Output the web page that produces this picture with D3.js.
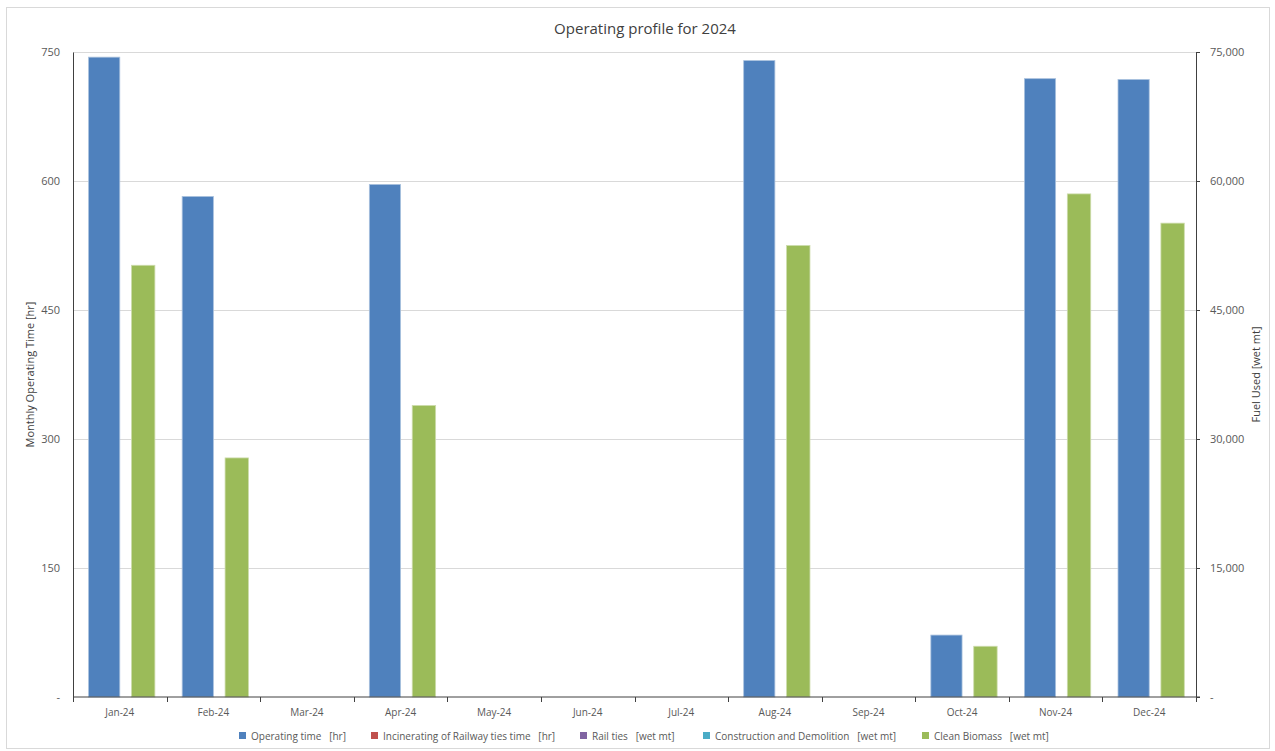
<!DOCTYPE html>
<html>
<head>
<meta charset="utf-8">
<script src="https://cdn.jsdelivr.net/npm/d3@7"></script>
<style>
  body { margin: 0; background: #fff; }
  text { font-family: "Open Sans", "Noto Sans", sans-serif; }
</style>
</head>
<body>
<div id="chart"></div>
<script>
// monthly data
var months = ["Jan-24", "Feb-24", "Mar-24", "Apr-24", "May-24", "Jun-24",
              "Jul-24", "Aug-24", "Sep-24", "Oct-24", "Nov-24", "Dec-24"];
var operatingTime = [744, 582, 0, 596, 0, 0, 0, 740, 0, 72, 719, 718];
var incineratingTime = [0, 0, 0, 0, 0, 0, 0, 0, 0, 0, 0, 0];
var railTies = [0, 0, 0, 0, 0, 0, 0, 0, 0, 0, 0, 0];
var constructionDemolition = [0, 0, 0, 0, 0, 0, 0, 0, 0, 0, 0, 0];
var cleanBiomass = [50200, 27800, 0, 33900, 0, 0, 0, 52500, 0, 5900, 58500, 55100];

var leftTicks = [0, 150, 300, 450, 600, 750];
var rightTicks = [0, 15000, 30000, 45000, 60000, 75000];

var primarySeries = [
  { name: "Operating time   [hr]", values: operatingTime, color: "#4F81BD", edge: "#a9c1de" },
  { name: "Incinerating of Railway ties time   [hr]", values: incineratingTime, color: "#C0504D", edge: "#dfa9a7" }
];
var secondarySeries = [
  { name: "Rail ties   [wet mt]", values: railTies, color: "#8064A2", edge: "#bfb2d0" },
  { name: "Construction and Demolition   [wet mt]", values: constructionDemolition, color: "#4BACC6", edge: "#a5d5e2" },
  { name: "Clean Biomass   [wet mt]", values: cleanBiomass, color: "#9BBB59", edge: "#cddcac" }
];

var width = 1275, height = 751;
var margin = { top: 52, right: 79, bottom: 54, left: 73 };
var plotW = width - margin.left - margin.right;
var plotH = height - margin.top - margin.bottom;

var svg = d3.select("#chart").append("svg")
  .attr("width", width)
  .attr("height", height);

// outer chart border
svg.append("rect")
  .attr("x", 6.5).attr("y", 7.5)
  .attr("width", 1263).attr("height", 741)
  .attr("fill", "#fff")
  .attr("stroke", "#d9d9d9");

svg.append("text")
  .attr("x", 645).attr("y", 34)
  .attr("text-anchor", "middle")
  .attr("font-size", 15)
  .attr("fill", "#404040")
  .text("Operating profile for 2024");

var g = svg.append("g").attr("transform", "translate(" + margin.left + "," + margin.top + ")");

var x = d3.scaleBand().domain(months).range([0, plotW]);
var yLeft = d3.scaleLinear().domain([0, 750]).range([plotH, 0]);
var yRight = d3.scaleLinear().domain([0, 75000]).range([plotH, 0]);

// primary and secondary groups overlap in each month, each with a 100% gap
var xPrim = d3.scaleBand().domain(d3.range(primarySeries.length))
  .range([0, x.bandwidth()]).paddingOuter(0.5);
var xSec = d3.scaleBand().domain(d3.range(secondarySeries.length))
  .range([0, x.bandwidth()]).paddingOuter(0.5);

// gridlines
g.selectAll(".grid").data(leftTicks.slice(1)).enter().append("line")
  .attr("x1", 0).attr("x2", plotW)
  .attr("y1", function (d) { return Math.round(yLeft(d)) + 0.5; })
  .attr("y2", function (d) { return Math.round(yLeft(d)) + 0.5; })
  .attr("stroke", "#d9d9d9");

function fmt(v) { return v === 0 ? "-" : d3.format(",")(v); }

function drawBars(series, inner, yScale) {
  series.forEach(function (s, si) {
    // keep month with each value so empty months can be skipped
    var pts = s.values.map(function (v, i) { return { month: months[i], v: v }; })
      .filter(function (d) { return d.v > 0; });
    g.selectAll(null).data(pts).enter().append("rect")
      .attr("x", function (d) { return x(d.month) + inner(si); })
      .attr("y", function (d) { return yScale(d.v); })
      .attr("width", inner.bandwidth())
      .attr("height", function (d) { return plotH - yScale(d.v); })
      .attr("fill", s.color)
      .attr("stroke", s.edge)
      .attr("stroke-width", 0.8);
  });
}
drawBars(primarySeries, xPrim, yLeft);
drawBars(secondarySeries, xSec, yRight);

// left axis
var leftAxis = g.append("g").call(d3.axisLeft(yLeft).tickValues(leftTicks).tickSize(0).tickPadding(13).tickFormat(fmt));
leftAxis.select(".domain").attr("stroke", "#404040");
leftAxis.selectAll("text").attr("font-size", 11).attr("fill", "#595959").attr("font-family", "Open Sans");

// right axis
var rightAxis = g.append("g").attr("transform", "translate(" + plotW + ",0)")
  .call(d3.axisRight(yRight).tickValues(rightTicks).tickSizeInner(4).tickSizeOuter(0).tickPadding(10).tickFormat(fmt));
rightAxis.select(".domain").attr("stroke", "#404040");
rightAxis.selectAll(".tick line").attr("stroke", "#404040");
rightAxis.selectAll("text").attr("font-size", 11).attr("fill", "#595959").attr("font-family", "Open Sans");

// bottom axis with ticks at category boundaries
var bottom = g.append("g").attr("transform", "translate(0," + plotH + ")");
bottom.append("line").attr("x1", 0).attr("x2", plotW + 4).attr("stroke", "#404040");
bottom.selectAll(".bt").data(d3.range(months.length + 1)).enter().append("line")
  .attr("x1", function (i) { return Math.round(i * x.step()) + 0.5; })
  .attr("x2", function (i) { return Math.round(i * x.step()) + 0.5; })
  .attr("y1", 0).attr("y2", 5)
  .attr("stroke", "#404040");
bottom.selectAll(".bl").data(months).enter().append("text")
  .attr("x", function (d) { return x(d) + x.bandwidth() / 2; })
  .attr("y", 19)
  .attr("text-anchor", "middle")
  .attr("font-size", 10)
  .attr("fill", "#595959")
  .text(function (d) { return d; });

// axis titles
svg.append("text")
  .attr("transform", "translate(34," + (margin.top + plotH / 2) + ") rotate(-90)")
  .attr("text-anchor", "middle")
  .attr("font-size", 11)
  .attr("fill", "#404040")
  .text("Monthly Operating Time [hr]");
svg.append("text")
  .attr("transform", "translate(1260," + (margin.top + plotH / 2) + ") rotate(-90)")
  .attr("text-anchor", "middle")
  .attr("font-size", 11)
  .attr("fill", "#404040")
  .text("Fuel Used [wet mt]");

// legend
var legendItems = primarySeries.concat(secondarySeries);
var legendX = [239, 371, 580, 703, 922];
var legend = svg.selectAll(".leg").data(legendItems).enter().append("g")
  .attr("transform", function (d, i) { return "translate(" + legendX[i] + ",736)"; });
legend.append("rect")
  .attr("x", 0).attr("y", -4)
  .attr("width", 7).attr("height", 7)
  .attr("fill", function (d) { return d.color; });
legend.append("text")
  .attr("x", 12).attr("y", 3.5)
  .attr("font-size", 10)
  .attr("fill", "#595959")
  .attr("xml:space", "preserve")
  .text(function (d) { return d.name; });
</script>
</body>
</html>
